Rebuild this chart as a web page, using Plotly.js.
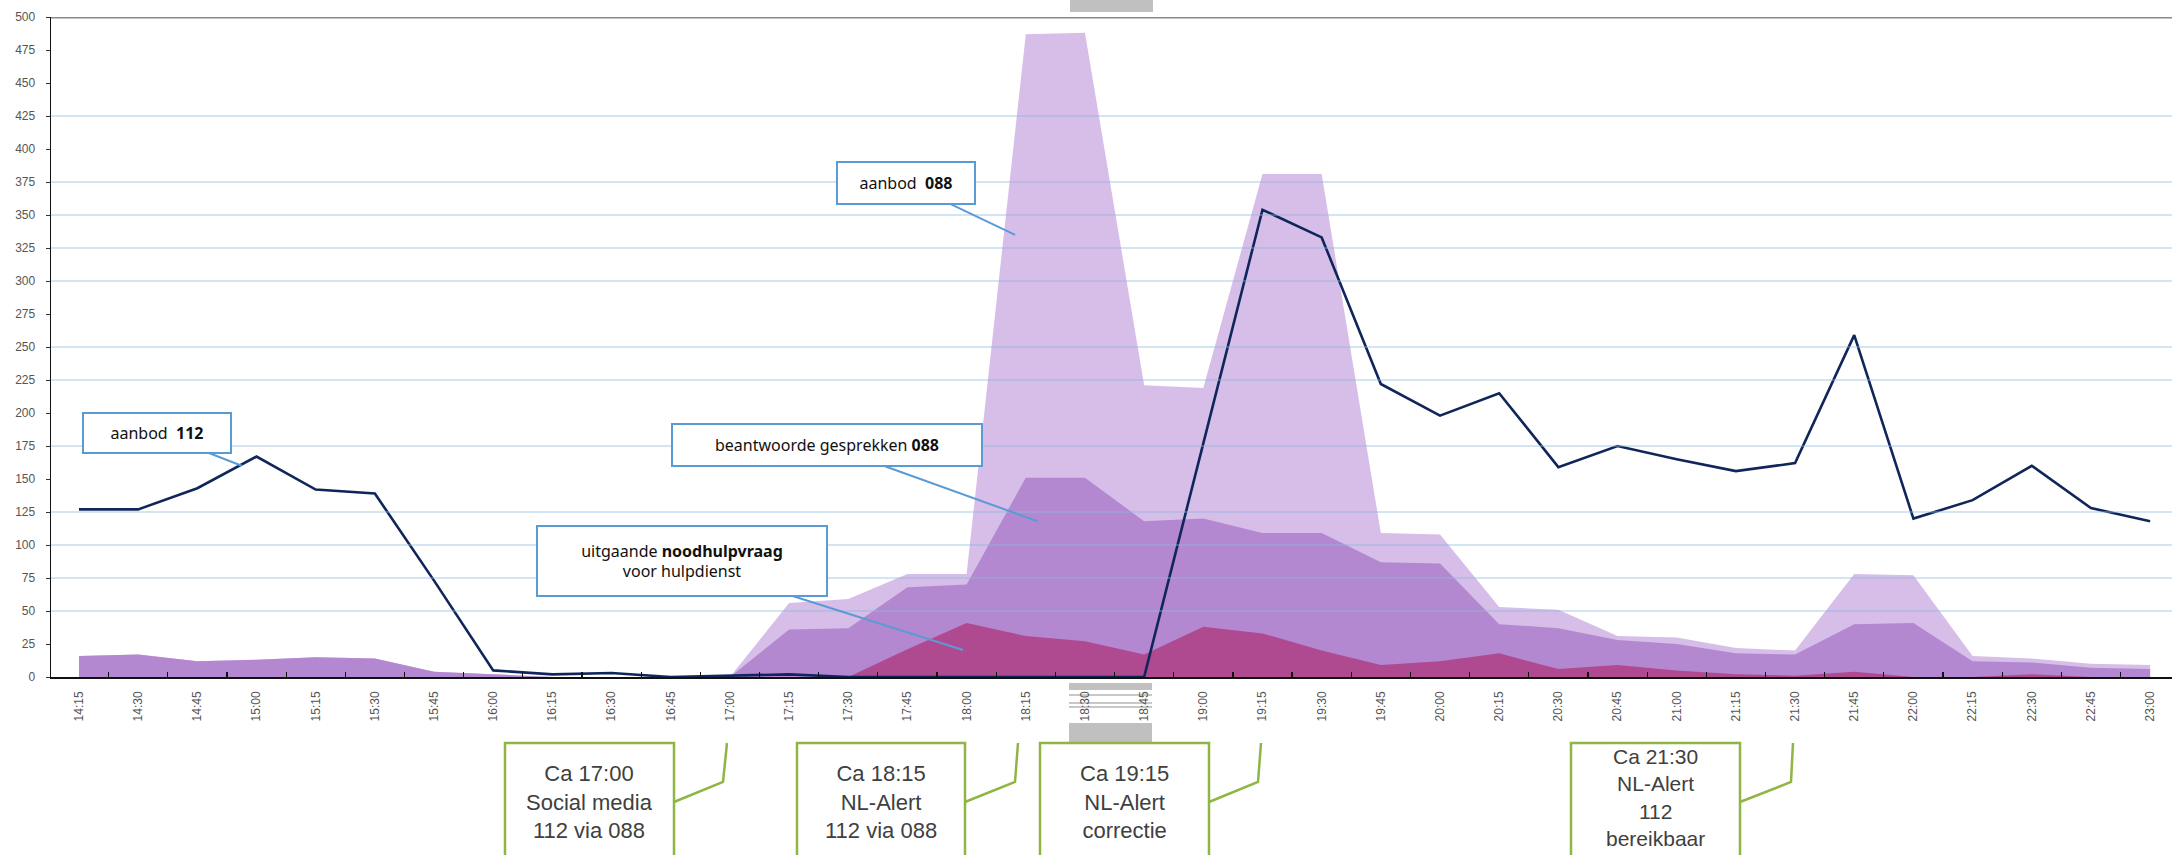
<!DOCTYPE html>
<html>
<head>
<meta charset="utf-8">
<script src="https://cdn.plot.ly/plotly-3.0.1.min.js"></script>
<style>html,body{margin:0;padding:0;background:#fff;}#chart{width:2172px;height:855px;}</style>
</head>
<body>
<div id="chart"></div>
<script>
// ---- data ----
const times = ['14:15','14:30','14:45','15:00','15:15','15:30','15:45','16:00','16:15','16:30','16:45',
  '17:00','17:15','17:30','17:45','18:00','18:15','18:30','18:45','19:00','19:15','19:30','19:45',
  '20:00','20:15','20:30','20:45','21:00','21:15','21:30','21:45','22:00','22:15','22:30','22:45','23:00'];

const aanbod112 = [127,127,143,167,142,139,73,5,2,3,0,1,2,0,0,0,0,0,0,177,354,333,222,198,215,159,175,165,156,162,259,120,134,160,128,118];

const aanbod088 = [16,17,12,13,15,14,4,2,0,0,0,0,56,59,78,78,487,488,221,219,381,381,109,108,53,51,31,30,22,20,78,77,16,14,10,9];

const beantwoord088 = [16,17,12,13,15,14,4,2,0,0,0,0,36,37,68,70,151,151,118,120,109,109,87,86,40,37,28,25,18,17,40,41,12,11,7,6];

const uitgaand = [0,0,0,0,0,0,0,0,0,0,0,0,0,0,21,41,31,27,17,38,33,20,9,12,18,6,9,5,2,1,4,0,0,2,0,0];

const gridValues = [50,75,100,125,175,225,250,300,325,350,375,425];

// ---- traces ----
const traces = [
  {x: times, y: aanbod088, type:'scatter', mode:'lines', fill:'tozeroy',
   line:{width:0, color:'#d6bee9'}, fillcolor:'#d6bee9', hoverinfo:'skip', name:'aanbod 088'},
  {x: times, y: beantwoord088, type:'scatter', mode:'lines', fill:'tozeroy',
   line:{width:0, color:'#b388d0'}, fillcolor:'#b388d0', hoverinfo:'skip', name:'beantwoorde gesprekken 088'},
  {x: times, y: uitgaand, type:'scatter', mode:'lines', fill:'tozeroy',
   line:{width:0, color:'#b04a90'}, fillcolor:'#b04a90', hoverinfo:'skip', name:'uitgaande noodhulpvraag'},
  {x: times, y: aanbod112, type:'scatter', mode:'lines',
   line:{width:2.6, color:'#10265a'}, hoverinfo:'skip', name:'aanbod 112'}
];

// ---- helpers for paper coordinates (plot area: x 51..2172, y 17..677 px) ----
const PL = 51, PW = 2121, PB = 677, PH = 660;
const px = X => (X - PL) / PW;
const py = Y => (PB - Y) / PH;

const shapes = [];
// gridlines
gridValues.forEach(v => shapes.push({type:'line', xref:'paper', x0:0, x1:1, yref:'y', y0:v, y1:v,
  line:{color:'rgba(140,185,225,0.5)', width:1.6}, layer:'above'}));
// top frame
shapes.push({type:'line', xref:'paper', x0:0, x1:1, yref:'y', y0:500, y1:500,
  line:{color:'#8a8a8a', width:3}, layer:'above'});
// grey artefacts
shapes.push({type:'rect', xref:'paper', yref:'paper', x0:px(1070), x1:px(1153), y0:py(0), y1:py(12),
  fillcolor:'#c0c0c0', line:{width:0}, layer:'below'});
shapes.push({type:'rect', xref:'paper', yref:'paper', x0:px(1069), x1:px(1152), y0:py(683), y1:py(690),
  fillcolor:'#c0c0c0', line:{width:0}, layer:'below'});
[695,703,707].forEach(Y => shapes.push({type:'line', xref:'paper', yref:'paper', x0:px(1069), x1:px(1152), y0:py(Y), y1:py(Y),
  line:{color:'#c8c8c8', width:2}, layer:'below'}));
shapes.push({type:'rect', xref:'paper', yref:'paper', x0:px(1069), x1:px(1152), y0:py(723), y1:py(742),
  fillcolor:'#c0c0c0', line:{width:0}, layer:'below'});

// green event boxes with connectors
const green = '#8fb544';
const boxes = [
  {l:505, r:674, cx:727, cmx:723, cy:802, fs:22},
  {l:797, r:965, cx:1018, cmx:1015, cy:802, fs:22},
  {l:1040, r:1209, cx:1261, cmx:1258, cy:802, fs:22},
  {l:1571, r:1740, cx:1793, cmx:1791, cy:797, fs:21}
];
boxes.forEach(b => {
  shapes.push({type:'rect', xref:'paper', yref:'paper', x0:px(b.l), x1:px(b.r), y0:py(743), y1:py(880),
    line:{color:green, width:2.5}, fillcolor:'rgba(0,0,0,0)'});
  shapes.push({type:'path', xref:'paper', yref:'paper',
    path:`M ${px(b.cx)} ${py(743)} L ${px(b.cmx)} ${py(782)} L ${px(b.r)} ${py(802)}`,
    line:{color:green, width:2.5}});
});

const eventTexts = ['Ca 17:00<br>Social media<br>112 via 088', 'Ca 18:15<br>NL-Alert<br>112 via 088',
  'Ca 19:15<br>NL-Alert<br>correctie', 'Ca 21:30<br>NL-Alert<br>112<br>bereikbaar'];

const annotations = [];
boxes.forEach((b, i) => annotations.push({xref:'paper', yref:'paper', x:px((b.l + b.r) / 2), y:py(b.cy),
  xanchor:'center', yanchor:'middle', showarrow:false, align:'center', text:eventTexts[i],
  font:{family:'Liberation Sans, Arial, sans-serif', size:b.fs, color:'#404040'}}));

const blue = '#5b9bd5';
const callout = (x, y, ax, ay, w, h, text) => ({
  xref:'x', yref:'y', x:x, y:y, ax:ax, ay:ay, axref:'pixel', ayref:'pixel', text:text,
  showarrow:true, arrowhead:0, arrowwidth:2, arrowcolor:blue, standoff:0,
  bordercolor:blue, borderwidth:2, borderpad:1, bgcolor:'#ffffff', width:w, height:h, align:'center',
  font:{family:'Noto Sans, Open Sans, sans-serif', size:16, color:'#111111'}
});
annotations.push(callout(2.75, 160, -85, -33, 144, 36, 'aanbod&nbsp;&nbsp;<b>112</b>'));
annotations.push(callout(15.82, 335, -109, -52, 134, 38, 'aanbod&nbsp;&nbsp;<b>088</b>'));
annotations.push(callout(16.2, 118, -211, -76, 306, 38, 'beantwoorde gesprekken <b>088</b>'));
annotations.push(callout(14.94, 20.5, -281, -89, 286, 66, 'uitgaande <b>noodhulpvraag</b><br>voor hulpdienst'));

const layout = {
  width: 2172, height: 855,
  margin: {l: PL, r: 0, t: 17, b: 178},
  paper_bgcolor: '#ffffff', plot_bgcolor: '#ffffff',
  showlegend: false,
  font: {family: 'Liberation Sans, Arial, sans-serif', color: '#444'},
  xaxis: {
    type: 'category', range: [-0.473, 35.37], tickson: 'boundaries',
    ticks: 'inside', ticklen: 5, tickwidth: 1.2, tickcolor: '#111',
    showline: true, linecolor: '#111', linewidth: 1.6,
    showgrid: false, zeroline: false, tickangle: -90,
    tickfont: {size: 12, color: '#555'}, ticklabelstandoff: 8
  },
  yaxis: {
    range: [0, 500], dtick: 25, tick0: 0,
    ticks: 'outside', ticklen: 4, tickcolor: '#333',
    showline: true, linecolor: '#111', linewidth: 1.4,
    showgrid: false, zeroline: false,
    tickfont: {size: 12, color: '#555'}, ticklabelstandoff: 8
  },
  shapes: shapes,
  annotations: annotations
};

Plotly.newPlot('chart', traces, layout, {displayModeBar: false, staticPlot: true});
</script>
</body>
</html>
